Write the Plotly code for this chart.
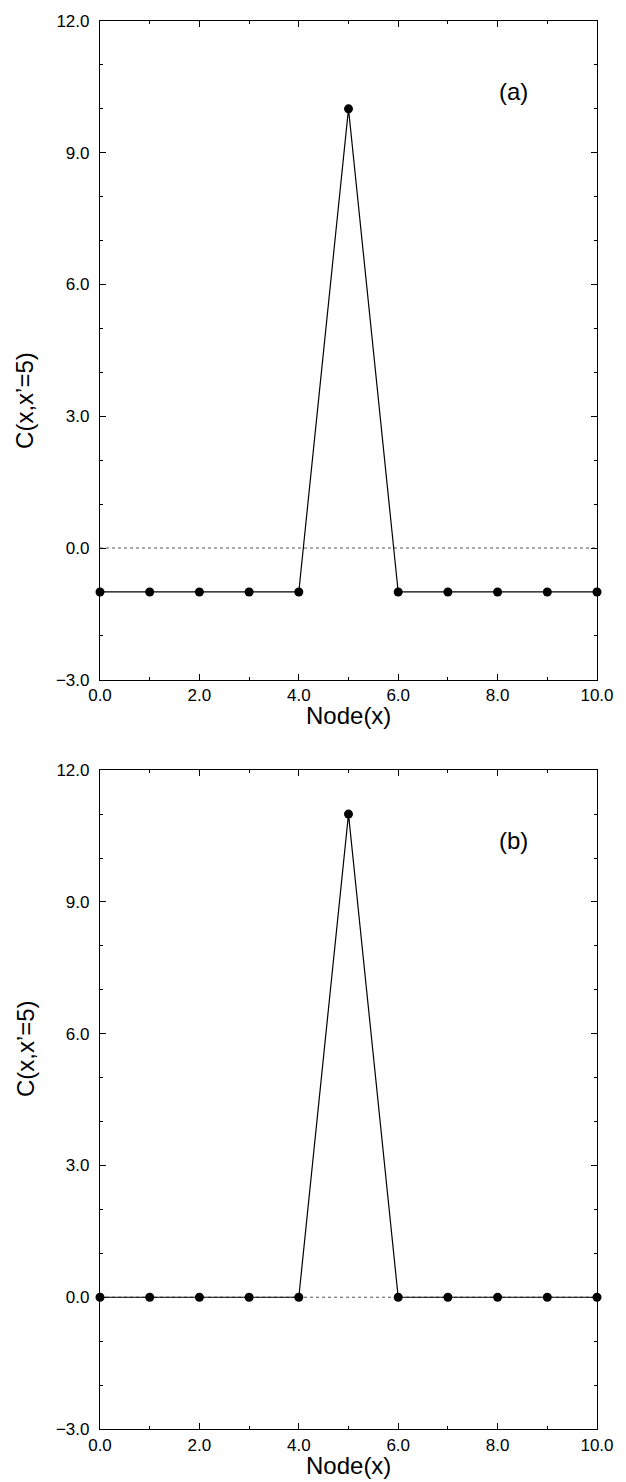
import plotly.graph_objects as go

nodes = [0, 1, 2, 3, 4, 5, 6, 7, 8, 9, 10]
c_a = [-1, -1, -1, -1, -1, 10, -1, -1, -1, -1, -1]
c_b = [0, 0, 0, 0, 0, 11, 0, 0, 0, 0, 0]
x_ticks = [0, 2, 4, 6, 8, 10]
x_tick_labels = ["0.0", "2.0", "4.0", "6.0", "8.0", "10.0"]
y_ticks = [-3, 0, 3, 6, 9, 12]
y_tick_labels = ["\u22123.0", "0.0", "3.0", "6.0", "9.0", "12.0"]
panel_labels = ["(a)", "(b)"]

FONT = "Liberation Sans, Arial, Helvetica, sans-serif"

fig = go.Figure()

for i, ys in enumerate([c_a, c_b]):
    xa = "x" if i == 0 else "x2"
    ya = "y" if i == 0 else "y2"
    # dotted reference line at 0
    fig.add_trace(go.Scatter(x=[nodes[0], nodes[-1]], y=[0, 0], mode="lines",
                             line=dict(color="#555555", width=1, dash="dot"),
                             xaxis=xa, yaxis=ya, showlegend=False, hoverinfo="skip"))
    fig.add_trace(go.Scatter(x=nodes, y=ys, mode="lines+markers",
                             line=dict(color="black", width=1.2),
                             marker=dict(color="black", size=9),
                             xaxis=xa, yaxis=ya, showlegend=False, cliponaxis=False))

axis_common = dict(showline=True, linecolor="black", linewidth=1.2, mirror="allticks",
                   ticks="inside", ticklen=6, tickwidth=1, tickcolor="black",
                   showgrid=False, zeroline=False,
                   tickfont=dict(family=FONT, size=17, color="black"))

xaxis_kw = dict(axis_common, range=[0, 10], tickmode="array", tickvals=x_ticks,
                ticktext=x_tick_labels, ticklabelstandoff=0,
                minor=dict(ticks="inside", ticklen=3, dtick=1, tickcolor="black", tickwidth=1,
                           showgrid=False))
yaxis_kw = dict(axis_common, range=[-3, 12], tickmode="array", tickvals=y_ticks,
                ticktext=y_tick_labels, ticklabelstandoff=6,
                minor=dict(ticks="inside", ticklen=3, dtick=1, tick0=0, tickcolor="black",
                           tickwidth=1, showgrid=False))

fig.update_layout(
    width=626, height=1482,
    margin=dict(l=100, r=19, t=12, b=53),
    plot_bgcolor="white", paper_bgcolor="white",
    xaxis=dict(xaxis_kw, domain=[0, 1], anchor="y"),
    yaxis=dict(yaxis_kw, domain=[0.5321, 1.0], anchor="x"),
    xaxis2=dict(xaxis_kw, domain=[0, 1], anchor="y2"),
    yaxis2=dict(yaxis_kw, domain=[0.0, 0.4679], anchor="x2"),
    font=dict(family=FONT, color="black"),
)

annots = []
for i, (ya, yd) in enumerate([("y", (0.5321, 1.0)), ("y2", (0.0, 0.4679))]):
    xa = "x" if i == 0 else "x2"
    annots.append(dict(x=8.32, y=10.4, xref=xa, yref=ya, text=panel_labels[i],
                       showarrow=False, font=dict(family=FONT, size=24, color="black")))
    annots.append(dict(x=0.5, y=yd[0], xref="paper", yref="paper", yshift=-36,
                       yanchor="middle", text="Node(x)", showarrow=False,
                       font=dict(family=FONT, size=24, color="black")))
    annots.append(dict(x=0, y=(yd[0] + yd[1]) / 2, xref="paper", yref="paper", xshift=-75,
                       xanchor="center", text="C(x,x\u2019=5)", textangle=-90, showarrow=False,
                       font=dict(family=FONT, size=24, color="black")))
fig.update_layout(annotations=annots)

fig.write_html("out.html", config={"displayModeBar": False},
               post_script="document.body.style.margin='0';document.body.style.overflow='hidden';")
